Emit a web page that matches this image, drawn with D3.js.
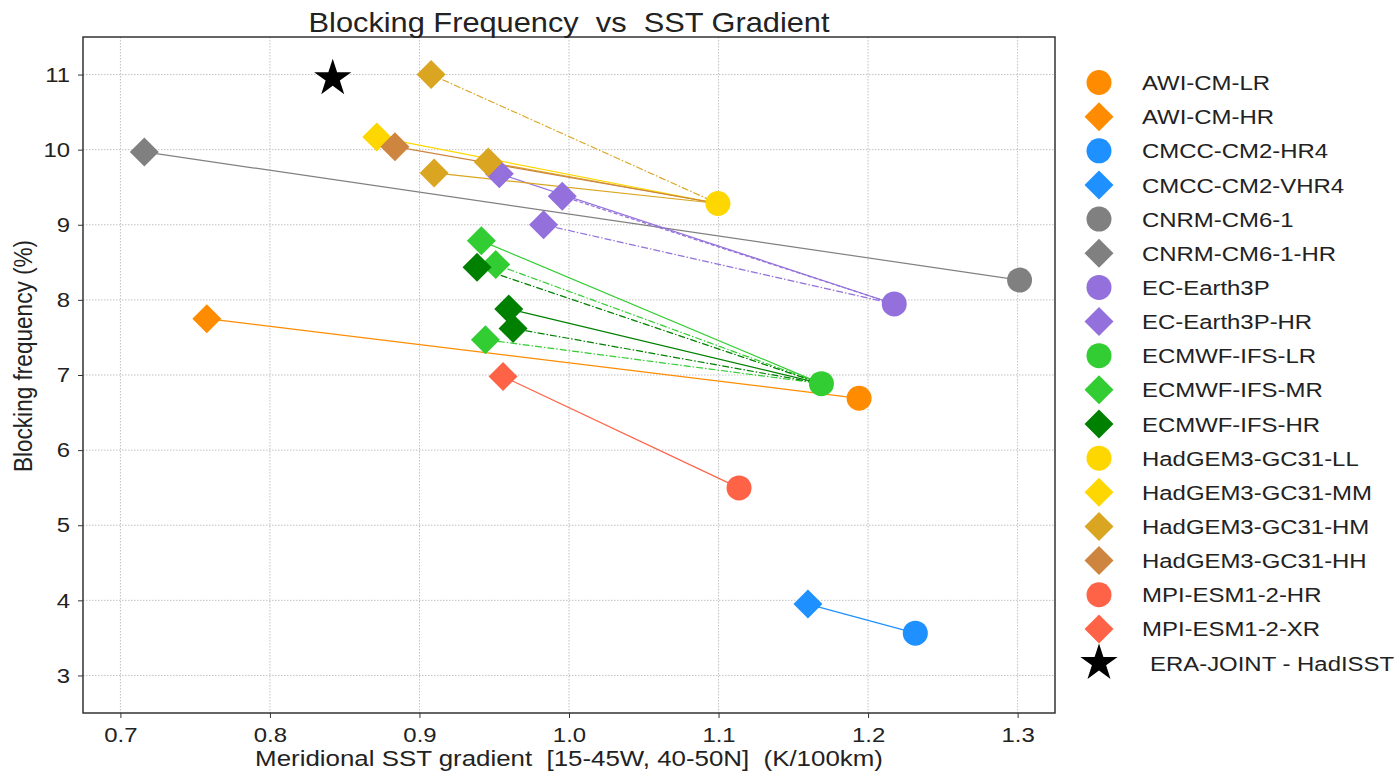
<!DOCTYPE html>
<html>
<head>
<meta charset="utf-8">
<script src="https://cdn.jsdelivr.net/npm/d3@7"></script>
<style>
  body { margin: 0; background: #fff; }
  svg text { font-family: "Liberation Sans", Arial, sans-serif; fill: #222; }
</style>
</head>
<body>
<div id="chart"></div>
<script>
const width = 1394;
const height = 778;
const margin = ({top: 37, right: 339, bottom: 65, left: 83});
const stretch = 1.14; // the reference text is a little wider than plain Arial

// low resolution runs (circles)
const lrNames = ["AWI-CM-LR", "CMCC-CM2-HR4", "CNRM-CM6-1", "EC-Earth3P", "ECMWF-IFS-LR", "HadGEM3-GC31-LL", "MPI-ESM1-2-HR"];
const lrGradient = [1.194, 1.2316, 1.3013, 1.2175, 1.1688, 1.0996, 1.1137];
const lrBlocking = [6.69, 3.563, 8.264, 7.946, 6.885, 9.283, 5.497];

// high resolution runs (diamonds), each linked to a low resolution run
const hrNames = ["AWI-CM-HR", "CMCC-CM2-VHR4", "CNRM-CM6-1-HR",
  "EC-Earth3P-HR", "EC-Earth3P-HR", "EC-Earth3P-HR",
  "ECMWF-IFS-MR", "ECMWF-IFS-MR", "ECMWF-IFS-MR",
  "ECMWF-IFS-HR", "ECMWF-IFS-HR", "ECMWF-IFS-HR",
  "HadGEM3-GC31-MM", "HadGEM3-GC31-HM", "HadGEM3-GC31-HM", "HadGEM3-GC31-HM", "HadGEM3-GC31-HH",
  "MPI-ESM1-2-XR"];
const hrBase = ["AWI-CM-LR", "CMCC-CM2-HR4", "CNRM-CM6-1",
  "EC-Earth3P", "EC-Earth3P", "EC-Earth3P",
  "ECMWF-IFS-LR", "ECMWF-IFS-LR", "ECMWF-IFS-LR",
  "ECMWF-IFS-LR", "ECMWF-IFS-LR", "ECMWF-IFS-LR",
  "HadGEM3-GC31-LL", "HadGEM3-GC31-LL", "HadGEM3-GC31-LL", "HadGEM3-GC31-LL", "HadGEM3-GC31-LL",
  "MPI-ESM1-2-HR"];
const hrMember = [0, 0, 0, 0, 1, 2, 0, 2, 2, 2, 0, 2, 0, 0, 0, 2, 0, 0];
const hrGradient = [0.7578, 1.1598, 0.716,
  0.9534, 0.9955, 0.9830,
  0.9414, 0.9510, 0.9441,
  0.9385, 0.9597, 0.9626,
  0.8715, 0.9460, 0.9098, 0.9078, 0.8836,
  0.9559];
const hrBlocking = [7.75, 3.95, 9.97,
  9.68, 9.38, 9.00,
  8.786, 8.47, 7.47,
  8.433, 7.88, 7.62,
  10.17, 9.835, 9.69, 11.0, 10.04,
  6.98];

const obsName = "ERA-JOINT - HadISST";
const obsGradient = 0.842;
const obsBlocking = 10.95;

const legendNames = ["AWI-CM-LR", "AWI-CM-HR", "CMCC-CM2-HR4", "CMCC-CM2-VHR4", "CNRM-CM6-1", "CNRM-CM6-1-HR",
  "EC-Earth3P", "EC-Earth3P-HR", "ECMWF-IFS-LR", "ECMWF-IFS-MR", "ECMWF-IFS-HR",
  "HadGEM3-GC31-LL", "HadGEM3-GC31-MM", "HadGEM3-GC31-HM", "HadGEM3-GC31-HH",
  "MPI-ESM1-2-HR", "MPI-ESM1-2-XR"];

const xTicks = [0.7, 0.8, 0.9, 1.0, 1.1, 1.2, 1.3];
const yTicks = [3, 4, 5, 6, 7, 8, 9, 10, 11];

const colorOf = {
  "AWI-CM-LR": "#ff8c00", "AWI-CM-HR": "#ff8c00",
  "CMCC-CM2-HR4": "#1e90ff", "CMCC-CM2-VHR4": "#1e90ff",
  "CNRM-CM6-1": "#808080", "CNRM-CM6-1-HR": "#808080",
  "EC-Earth3P": "#9370db", "EC-Earth3P-HR": "#9370db",
  "ECMWF-IFS-LR": "#32cd32", "ECMWF-IFS-MR": "#32cd32", "ECMWF-IFS-HR": "#008000",
  "HadGEM3-GC31-LL": "#ffd700", "HadGEM3-GC31-MM": "#ffd700",
  "HadGEM3-GC31-HM": "#daa520", "HadGEM3-GC31-HH": "#cd853f",
  "MPI-ESM1-2-HR": "#ff6347", "MPI-ESM1-2-XR": "#ff6347"
};
const dashes = [null, "4,2", "7,2,1.5,2"];

const circleR = 12.5;
const diamondR = 14.5;

const x = d3.scaleLinear()
  .domain([0.675, 1.325])
  .range([margin.left, width - margin.right]);

const y = d3.scaleLinear()
  .domain([2.5, 11.5])
  .range([height - margin.bottom, margin.top]);

const lr = lrNames.map((n, i) => ({name: n, g: lrGradient[i], b: lrBlocking[i]}));
const hr = hrNames.map((n, i) => ({name: n, base: lr.find(d => d.name === hrBase[i]), member: hrMember[i], g: hrGradient[i], b: hrBlocking[i]}));

const diamond = r => `M0,${-r}L${r},0L0,${r}L${-r},0Z`;
const star = d3.symbol().type(d3.symbolStar).size(430);

const svg = d3.select("#chart")
  .append("svg")
  .attr("width", width)
  .attr("height", height);

// grid
const grid = svg.append("g")
  .attr("stroke", "#c0c0c0")
  .attr("stroke-width", 1)
  .attr("stroke-dasharray", "1.5,1.5");

grid.selectAll("line.v")
  .data(xTicks)
  .join("line")
  .attr("class", "v")
  .attr("x1", d => x(d)).attr("x2", d => x(d))
  .attr("y1", margin.top).attr("y2", height - margin.bottom);

grid.selectAll("line.h")
  .data(yTicks)
  .join("line")
  .attr("class", "h")
  .attr("x1", margin.left).attr("x2", width - margin.right)
  .attr("y1", d => y(d)).attr("y2", d => y(d));

// axes
const xAxis = g => g
  .attr("transform", `translate(0,${height - margin.bottom})`)
  .call(d3.axisBottom(x).tickValues(xTicks).tickFormat(d3.format(".1f")).tickSize(5).tickPadding(9).tickSizeOuter(0))
  .call(g => g.select(".domain").remove());

const yAxis = g => g
  .attr("transform", `translate(${margin.left},0)`)
  .call(d3.axisLeft(y).tickValues(yTicks).tickSize(5).tickSizeOuter(0))
  .call(g => g.select(".domain").remove())
  .call(g => g.selectAll(".tick text").attr("x", -13 / stretch));

svg.append("g").call(xAxis);
svg.append("g").call(yAxis);

svg.selectAll(".tick text")
  .attr("font-family", "DejaVu Sans, sans-serif")
  .attr("font-size", 21)
  .attr("fill", "#222")
  .attr("transform", `scale(${stretch},1)`);
svg.selectAll(".tick line").attr("stroke", "#333");

// links
svg.append("g")
  .attr("fill", "none")
  .attr("stroke-width", 1.2)
  .selectAll("line")
  .data(hr)
  .join("line")
  .attr("stroke", d => colorOf[d.name])
  .attr("stroke-dasharray", d => dashes[d.member])
  .attr("x1", d => x(d.g)).attr("y1", d => y(d.b))
  .attr("x2", d => x(d.base.g)).attr("y2", d => y(d.base.b));

// markers in legend order
const marks = svg.append("g");
legendNames.forEach(name => {
  lr.filter(d => d.name === name).forEach(d => {
    marks.append("circle")
      .attr("cx", x(d.g)).attr("cy", y(d.b)).attr("r", circleR)
      .attr("fill", colorOf[name]);
  });
  hr.filter(d => d.name === name).forEach(d => {
    marks.append("path")
      .attr("transform", `translate(${x(d.g)},${y(d.b)})`)
      .attr("d", diamond(diamondR))
      .attr("fill", colorOf[name]);
  });
});

marks.append("path")
  .attr("transform", `translate(${x(obsGradient)},${y(obsBlocking)})`)
  .attr("d", star())
  .attr("fill", "#000");

// frame
svg.append("rect")
  .attr("x", margin.left).attr("y", margin.top)
  .attr("width", width - margin.left - margin.right)
  .attr("height", height - margin.top - margin.bottom)
  .attr("fill", "none")
  .attr("stroke", "#333")
  .attr("stroke-width", 1.5);

// titles
svg.append("text")
  .attr("transform", `translate(${(margin.left + width - margin.right) / 2},32) scale(${stretch},1)`)
  .attr("text-anchor", "middle")
  .attr("font-size", 27)
  .style("white-space", "pre")
  .text("Blocking Frequency  vs  SST Gradient");

svg.append("text")
  .attr("transform", `translate(${(margin.left + width - margin.right) / 2},766) scale(${stretch},1)`)
  .attr("text-anchor", "middle")
  .attr("font-size", 22.7)
  .style("white-space", "pre")
  .text("Meridional SST gradient  [15-45W, 40-50N]  (K/100km)");

svg.append("text")
  .attr("transform", `translate(31.5,356) rotate(-90) scale(1,${stretch})`)
  .attr("text-anchor", "middle")
  .attr("font-size", 22.6)
  .text("Blocking frequency (%)");

// legend
const legend = svg.append("g")
  .attr("transform", "translate(1099,82.5)");
const rowH = 34.15;

const item = legend.selectAll("g")
  .data(legendNames)
  .join("g")
  .attr("transform", (d, i) => `translate(0,${i * rowH})`);

item.filter(d => lrNames.includes(d))
  .append("circle")
  .attr("r", circleR)
  .attr("fill", d => colorOf[d]);

item.filter(d => !lrNames.includes(d))
  .append("path")
  .attr("d", diamond(diamondR))
  .attr("fill", d => colorOf[d]);

item.append("text")
  .attr("transform", `translate(43,0) scale(${stretch},1)`)
  .attr("dy", "0.36em")
  .attr("font-size", 21)
  .text(d => d);

const obsItem = legend.append("g")
  .attr("transform", `translate(0,${legendNames.length * rowH})`);
obsItem.append("path").attr("d", star()).attr("fill", "#000");
obsItem.append("text")
  .attr("transform", `translate(51,0) scale(${stretch},1)`)
  .attr("dy", "0.36em")
  .attr("font-size", 21)
  .text(obsName);
</script>
</body>
</html>
